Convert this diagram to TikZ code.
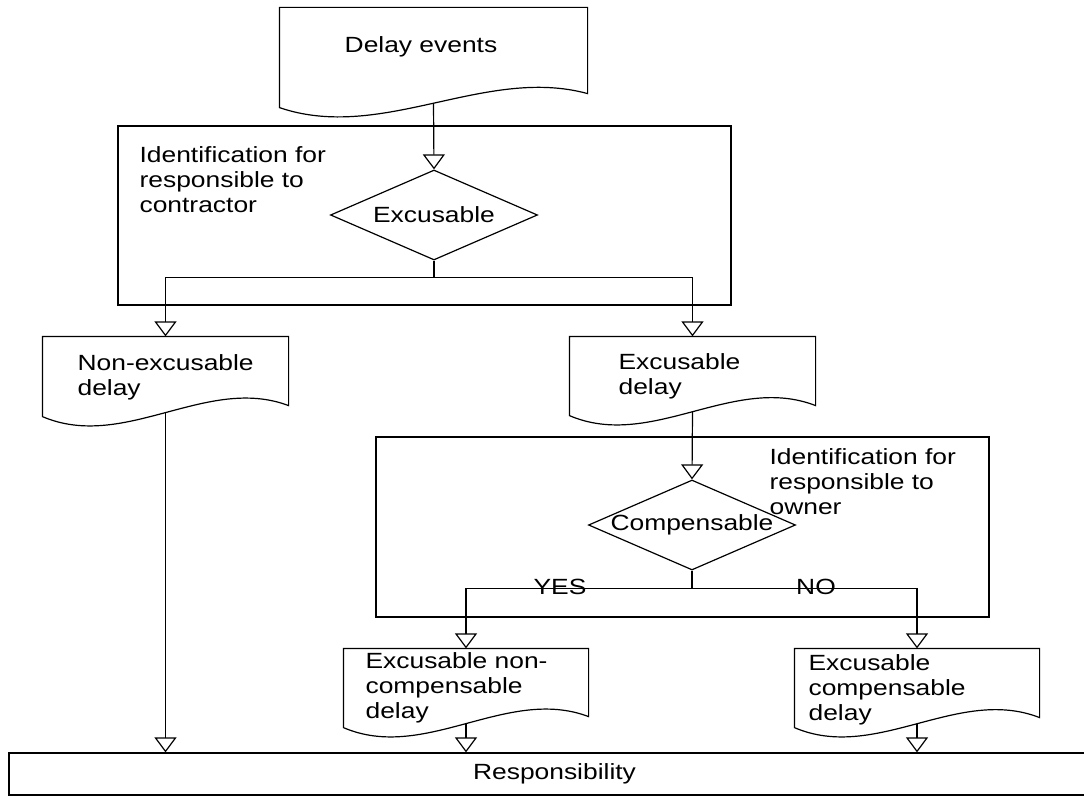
\documentclass[tikz,border=0pt]{standalone}
\usepackage{fontspec}
\setmainfont{Liberation Sans}[FakeStretch=1.2]
\usetikzlibrary{positioning, calc, shapes.geometric, arrows.meta}

\tikzset{
  box/.style={draw, rectangle, inner sep=0pt},
  doc/.style={rectangle, inner sep=0pt},
  dec/.style={draw, diamond, inner sep=0pt, aspect=2.3, minimum width=207, minimum height=90},
  lbl/.style={inner sep=0pt, align=left, anchor=west},
  arr/.style={-{Triangle[open, width=22pt, length=15pt]}},
}

% document outline with wavy bottom, #2 = rise of the right corner
\newcommand{\docline}[2]{%
  \draw (#1.north west) -- (#1.north east) -- ($(#1.south east)+(0,-#2)$)
    .. controls ($(#1.south east)!0.333!(#1.south west)+(0,-42)$)
    and ($(#1.south east)!0.667!(#1.south west)+(0,35)$) .. (#1.south west) -- cycle;
  \coordinate (#1-b) at ($(#1.south)+(0,{-#2/8-2.6})$);}

\begin{document}
\begin{tikzpicture}[x=1pt, y=-1pt, line width=1.2pt,
  font=\fontsize{22pt}{25pt}\selectfont]
\useasboundingbox[fill=white] (0,0) rectangle (1084,802);

% frames
\node[box, minimum width=613, minimum height=179] (idc) at (424.5,215.5) {};
\node[box, minimum width=613, minimum height=180] (ido) at (682.5,527) {};
\node[box, minimum width=1091, minimum height=42] (resp) at (554.5,774) {Responsibility};

\node[lbl] (idc-t) at (139,180) {Identification for\\responsible to\\contractor};
\node[lbl] (ido-t) at (769,482) {Identification for\\responsible to\\owner};

% documents
\node[doc, minimum width=307, minimum height=99] (de) at (433.5,57.5) {};
\docline{de}{14}
\node[lbl, anchor=center] (de-t) at (421,47) {Delay events};

\node[doc, minimum width=245, minimum height=79] (ned) at (165.5,376.5) {};
\docline{ned}{11}
\node[lbl] (ned-t) at (77,377) {Non-excusable\\delay};

\node[doc, minimum width=245, minimum height=78] (exd) at (692.5,376) {};
\docline{exd}{10}
\node[lbl] (exd-t) at (618,376) {Excusable\\delay};

\node[doc, minimum width=244, minimum height=78] (enc) at (466,688) {};
\docline{enc}{11}
\node[lbl] (enc-t) at (365,688) {Excusable non-\\compensable\\delay};

\node[doc, minimum width=244, minimum height=78] (ecd) at (917,688) {};
\docline{ecd}{10}
\node[lbl] (ecd-t) at (808,690) {Excusable\\compensable\\delay};

% decisions
\node[dec] (exc) at (434,215) {\makebox[0pt]{Excusable}};
\node[dec] (cmp) at (692,525) {\makebox[0pt]{Compensable}};

% connectors
\draw[arr] (de-b) -- (exc.north);
\coordinate (j1) at ($(exc.south)+(0,17)$);
\draw (exc.south) -- (j1);
\draw[arr] (j1) -| (ned.north);
\draw[arr] (j1) -| (exd.north);

\draw[arr] (exd-b) -- (cmp.north);
\coordinate (j2) at ($(cmp.south)+(0,18)$);
\draw (cmp.south) -- (j2);
\draw[arr] (j2) -| (enc.north);
\draw[arr] (j2) -| (ecd.north);
\node[inner sep=0pt] (yes) at (560,587) {YES};
\node[inner sep=0pt] (no) at (816,587) {NO};

\draw[arr] (ned-b) -- (ned-b |- resp.north);
\draw[arr] (enc-b) -- (enc-b |- resp.north);
\draw[arr] (ecd-b) -- (ecd-b |- resp.north);
\end{tikzpicture}
\end{document}
